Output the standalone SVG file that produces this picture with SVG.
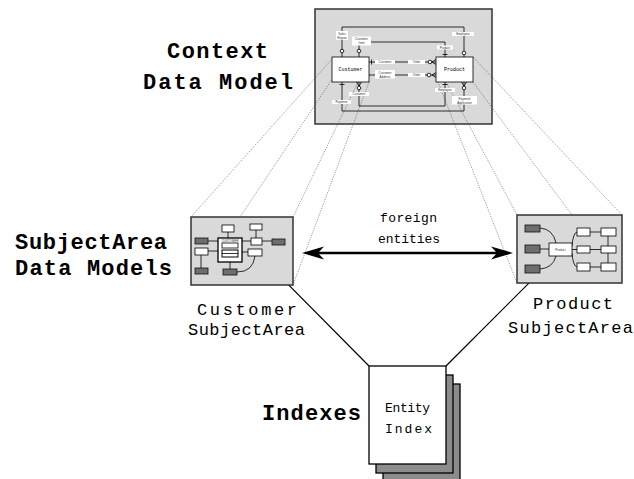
<svg xmlns="http://www.w3.org/2000/svg" width="634" height="479" viewBox="0 0 634 479">
<style>
.big{font-family:"Liberation Mono",monospace;font-weight:bold;font-size:22px;fill:#000}
.mid{font-family:"Liberation Mono",monospace;font-size:17px;fill:#000}
.sm{font-family:"Liberation Mono",monospace;font-size:13px;fill:#000}
.tiny{font-family:"Liberation Sans",sans-serif;font-size:3px;fill:#333}
.ent{font-family:"Liberation Mono",monospace;font-size:5px;fill:#000}
.panel{fill:#d9d9d9;stroke:#333;stroke-width:1.5}
.box{fill:#fff;stroke:#000;stroke-width:0.8}
.dbox{fill:#6e6e6e;stroke:#111;stroke-width:0.8}
.rel{fill:none;stroke:#000;stroke-width:0.8}
.lbl{fill:#fff;stroke:none}
.proj{fill:none;stroke:#555;stroke-width:0.6;stroke-dasharray:1.2 1.2}
.circ{fill:#fff;stroke:#000;stroke-width:0.8}
.page{stroke:#000;stroke-width:1.3}
</style>

<!-- labels -->
<g id="label-context">
<text class="big" x="167" y="58" textLength="101" lengthAdjust="spacing">Context</text>
<text class="big" x="143" y="89" textLength="150" lengthAdjust="spacing">Data Model</text>
</g>
<g id="label-subject">
<text class="big" x="15" y="249" textLength="152" lengthAdjust="spacing">SubjectArea</text>
<text class="big" x="15" y="275" textLength="157" lengthAdjust="spacing">Data Models</text>
</g>
<g id="label-indexes">
<text class="big" x="262" y="420" textLength="99" lengthAdjust="spacing">Indexes</text>
</g>

<!-- Context data model -->
<g id="context-model">
<rect class="panel" x="315" y="9" width="177" height="115"/>
</g>

<!-- projection lines -->
<g id="connectors">
<line class="proj" x1="333" y1="58" x2="191" y2="217"/>
<line class="proj" x1="333" y1="78" x2="240" y2="217"/>
<line class="proj" x1="358" y1="82" x2="293" y2="217"/>
<line class="proj" x1="369" y1="82" x2="293" y2="285"/>
<line class="proj" x1="438" y1="82" x2="517" y2="283"/>
<line class="proj" x1="446" y1="82" x2="517" y2="215"/>
<line class="proj" x1="473" y1="82" x2="572" y2="215"/>
<line class="proj" x1="473" y1="57" x2="622" y2="215"/>

<!-- foreign entities arrow -->
<line x1="312" y1="253" x2="503" y2="253" stroke="#000" stroke-width="2.6"/>
<polygon points="302,253 324,246.5 318,253 324,259.5" fill="#000"/>
<polygon points="513,253 491,246.5 497,253 491,259.5" fill="#000"/>

<!-- index arrows -->
<line x1="369" y1="366" x2="272" y2="268.1" stroke="#000" stroke-width="1.2"/>
<polygon points="265,261 278.4,267.4 272,268.1 271.3,274.4" fill="#000"/>
<line x1="446" y1="366" x2="545.9" y2="266.1" stroke="#000" stroke-width="1.2"/>
<polygon points="553,259 546.6,272.4 545.9,266.1 539.6,265.4" fill="#000"/>
</g>

<g id="context-inner">
<!-- R1 top loop -->
<path class="rel" d="M342,57 V27 H464 V57"/>
<circle class="circ" cx="342" cy="51" r="1.8"/>
<circle class="circ" cx="464" cy="53" r="1.8"/>
<rect class="lbl" x="336" y="31" width="12" height="9"/>
<text class="tiny" x="342" y="34.5" text-anchor="middle">Sales</text>
<text class="tiny" x="342" y="38.5" text-anchor="middle">Region</text>
<rect class="lbl" x="452" y="32" width="22" height="4"/>
<text class="tiny" x="463" y="35" text-anchor="middle">Employee</text>
<!-- R2 -->
<path class="rel" d="M359,57 V42 H445 V57"/>
<circle class="circ" cx="359" cy="51" r="1.8"/>
<line class="rel" x1="442.5" y1="54.5" x2="447.5" y2="54.5"/>
<rect class="lbl" x="352" y="36.5" width="19" height="9"/>
<text class="tiny" x="361.5" y="40" text-anchor="middle">Customer</text>
<text class="tiny" x="361.5" y="44" text-anchor="middle">Item</text>
<rect class="lbl" x="437" y="45.5" width="16" height="4"/>
<text class="tiny" x="445" y="48.5" text-anchor="middle">Product</text>
<!-- R3 -->
<path class="rel" d="M369,62 H436"/>
<line class="rel" x1="371.5" y1="59.5" x2="371.5" y2="64.5"/>
<circle class="circ" cx="430" cy="62" r="1.8"/>
<path class="rel" d="M432,62 L436,59.5 M432,62 L436,64.5"/>
<rect class="lbl" x="375" y="60" width="20" height="4"/>
<text class="tiny" x="385" y="63" text-anchor="middle">Customer</text>
<rect class="lbl" x="408" y="60" width="17" height="4"/>
<text class="tiny" x="416.5" y="63" text-anchor="middle">Order</text>
<!-- R4 -->
<path class="rel" d="M369,75 H436"/>
<circle class="circ" cx="429" cy="75" r="1.8"/>
<path class="rel" d="M432,75 L436,72.5 M432,75 L436,77.5"/>
<rect class="lbl" x="375" y="70" width="20" height="8.5"/>
<text class="tiny" x="385" y="73.5" text-anchor="middle">Customer</text>
<text class="tiny" x="385" y="77.5" text-anchor="middle">Address</text>
<rect class="lbl" x="408" y="73" width="17" height="4"/>
<text class="tiny" x="416.5" y="76" text-anchor="middle">Order</text>
<!-- R5 bottom loop -->
<path class="rel" d="M342,82 V111 H464 V82"/>
<line class="rel" x1="339.5" y1="84.5" x2="344.5" y2="84.5"/>
<circle class="circ" cx="464" cy="88" r="1.8"/>
<path class="rel" d="M464,86 L461.5,82 M464,86 L466.5,82"/>
<rect class="lbl" x="332" y="100" width="19" height="4"/>
<text class="tiny" x="341.5" y="103" text-anchor="middle">Payment</text>
<rect class="lbl" x="452" y="96" width="25" height="8.5"/>
<text class="tiny" x="464.5" y="99.5" text-anchor="middle">Payment</text>
<text class="tiny" x="464.5" y="103.5" text-anchor="middle">Application</text>
<!-- R6 -->
<path class="rel" d="M359,82 V106 H445 V82"/>
<circle class="circ" cx="359" cy="88" r="1.8"/>
<path class="rel" d="M359,86 L356.5,82 M359,86 L361.5,82"/>
<line class="rel" x1="442.5" y1="84.5" x2="447.5" y2="84.5"/>
<rect class="lbl" x="349" y="92" width="20" height="4"/>
<text class="tiny" x="359" y="95" text-anchor="middle">Customer</text>
<rect class="lbl" x="435" y="88" width="20" height="4"/>
<text class="tiny" x="445" y="91" text-anchor="middle">Employee</text>
</g>

<g id="context-customer">
<rect class="box" x="332" y="57" width="37" height="25"/>
<text class="ent" x="350.5" y="71" text-anchor="middle">Customer</text>
</g>
<g id="context-product">
<rect class="box" x="436" y="57" width="37" height="25"/>
<text class="ent" x="454.5" y="71" text-anchor="middle">Product</text>
</g>

<!-- Customer subject area -->
<g id="customer-subject-area">
<rect class="panel" x="191" y="217" width="102" height="68"/>
<g class="rel">
<line x1="228" y1="232" x2="228" y2="238"/>
<line x1="256" y1="230" x2="256" y2="238"/>
<line x1="242" y1="241" x2="251" y2="241"/>
<line x1="262" y1="241" x2="272" y2="241"/>
<line x1="208" y1="241" x2="218" y2="241"/>
<line x1="208" y1="251" x2="218" y2="251"/>
<line x1="201" y1="255" x2="201" y2="268"/>
<line x1="230" y1="262" x2="230" y2="269"/>
<line x1="242" y1="252" x2="248" y2="252"/>
<path d="M255,256 Q253,272 237,272"/>
</g>
<rect x="218" y="238" width="24" height="24" fill="#fff" stroke="#000" stroke-width="1.3"/>
<text class="tiny" x="230" y="241.5" text-anchor="middle">CUSTOMER</text>
<rect class="box" x="222" y="243" width="16" height="5"/>
<rect x="222" y="250" width="16" height="7" fill="#fff" stroke="#000" stroke-width="1"/>
<line x1="222" y1="253.5" x2="238" y2="253.5" stroke="#000" stroke-width="0.8"/>
<rect class="box" x="222" y="225" width="12" height="7"/>
<rect class="box" x="250" y="224" width="12" height="6"/>
<rect class="box" x="251" y="238" width="11" height="7"/>
<rect class="dbox" x="272" y="239" width="13" height="6"/>
<rect class="dbox" x="195" y="238" width="13" height="6"/>
<rect class="box" x="195" y="248" width="13" height="7"/>
<rect class="dbox" x="195" y="268" width="13" height="6"/>
<rect class="dbox" x="223" y="269" width="14" height="6"/>
<rect class="box" x="248" y="249" width="14" height="7"/>
</g>

<!-- Product subject area -->
<g id="product-subject-area">
<rect class="panel" x="517" y="215" width="105" height="68"/>
<g class="rel">
<path d="M540,228 Q553,229 556,243"/>
<line x1="540" y1="249" x2="549" y2="249"/>
<path d="M540,269 Q553,268 556,256"/>
<path d="M572,246 Q573,233 577,232"/>
<line x1="572" y1="249.5" x2="577" y2="249.5"/>
<path d="M572,253 Q573,266 577,267"/>
<line x1="590" y1="232" x2="601" y2="232"/>
<line x1="590" y1="249.5" x2="601" y2="249.5"/>
<line x1="590" y1="267" x2="601" y2="267"/>
<line x1="608" y1="236" x2="608" y2="246"/>
<line x1="608" y1="253" x2="608" y2="263"/>
</g>
<rect class="dbox" x="525" y="225" width="15" height="7"/>
<rect class="dbox" x="525" y="245" width="15" height="8"/>
<rect class="dbox" x="525" y="265" width="15" height="8"/>
<rect class="box" x="549" y="243" width="23" height="13" stroke-width="1"/>
<text class="tiny" x="560.5" y="250.5" text-anchor="middle">Product</text>
<rect class="box" x="577" y="228" width="13" height="8"/>
<rect class="box" x="601" y="228" width="15" height="8"/>
<rect class="box" x="577" y="246" width="13" height="7"/>
<rect class="box" x="601" y="246" width="15" height="7"/>
<rect class="box" x="577" y="263" width="13" height="8"/>
<rect class="box" x="601" y="263" width="15" height="8"/>
</g>

<g id="label-customer-sa">
<text class="mid" x="197" y="315" textLength="100" lengthAdjust="spacing">Customer</text>
<text class="mid" x="188" y="335" textLength="117" lengthAdjust="spacing">SubjectArea</text>
</g>
<g id="label-product-sa">
<text class="mid" x="533" y="309" textLength="80" lengthAdjust="spacing">Product</text>
<text class="mid" x="508" y="333" textLength="125" lengthAdjust="spacing">SubjectArea</text>
</g>

<g id="label-foreign">
<text class="sm" x="380" y="222" textLength="57" lengthAdjust="spacing">foreign</text>
<text class="sm" x="378" y="243" textLength="62" lengthAdjust="spacing">entities</text>
</g>

<!-- Entity index -->
<g id="entity-index">
<rect class="page" x="383" y="384" width="77" height="98" fill="#8c8c8c"/>
<rect class="page" x="376" y="375" width="77" height="98" fill="#8c8c8c"/>
<rect class="page" x="369" y="366" width="77" height="98" fill="#fff"/>
<text class="sm" x="385" y="412" textLength="45" lengthAdjust="spacing">Entity</text>
<text class="sm" x="385" y="433" textLength="47" lengthAdjust="spacing">Index</text>
</g>
</svg>
